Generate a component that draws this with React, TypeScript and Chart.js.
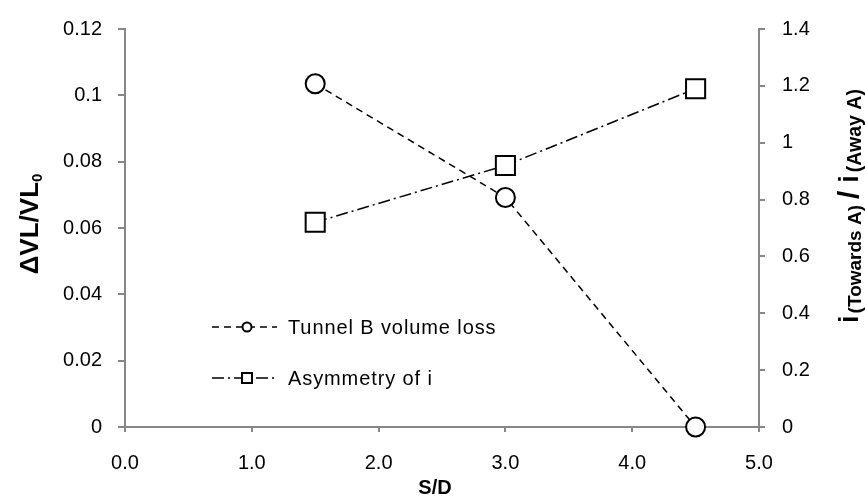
import React, { useEffect, useRef } from 'react';
import { Chart, registerables } from 'chart.js';

Chart.register(...registerables);

// ---- data ----
const sdValues = [1.5, 3.0, 4.5];
const volumeLoss = [0.1035, 0.0692, 0.0];
const asymmetry = [0.72, 0.92, 1.19];
const seriesNames = ['Tunnel B volume loss', 'Asymmetry of i'];
const xRange = [0, 5];
const leftRange = [0, 0.12];
const rightRange = [0, 1.4];

const FONT = '"Liberation Sans", Arial, Helvetica, sans-serif';
const AXIS_COLOR = '#878787';
const DASH_LOSS = [7, 5];
const DASH_ASYM = [12, 4, 2, 4];

const decorPlugin = {
  id: 'decor',
  afterDraw(chart: any) {
    const ctx: CanvasRenderingContext2D = chart.ctx;
    ctx.save();
    ctx.fillStyle = '#000';
    ctx.strokeStyle = '#000';

    // ---- legend (inside plot) ----
    const rows = [327, 378];
    const x0 = 212, x1 = 277, xm = 247, xt = 288;
    chart.data.datasets.forEach((ds: any, i: number) => {
      const y = rows[i];
      ctx.save();
      ctx.lineWidth = 1.5;
      ctx.setLineDash(ds.borderDash || []);
      ctx.beginPath();
      ctx.moveTo(x0, y);
      ctx.lineTo(x1, y);
      ctx.stroke();
      ctx.setLineDash([]);
      ctx.fillStyle = '#fff';
      ctx.lineWidth = 2;
      ctx.beginPath();
      if (ds.pointStyle === 'rect') {
        ctx.rect(xm - 5, y - 5, 10, 10);
      } else {
        ctx.arc(xm, y, 4.5, 0, Math.PI * 2);
      }
      ctx.fill();
      ctx.stroke();
      ctx.restore();
      ctx.save();
      ctx.font = `20px ${FONT}`;
      (ctx as any).letterSpacing = '0.9px';
      ctx.textAlign = 'left';
      ctx.textBaseline = 'middle';
      ctx.fillText(ds.label, xt, y + 1);
      ctx.restore();
    });

    // ---- x title ----
    ctx.font = `bold 20px ${FONT}`;
    ctx.textAlign = 'center';
    ctx.textBaseline = 'alphabetic';
    ctx.fillText('S/D', 435, 494);

    // helper for rotated rich text
    const drawRotated = (parts: { t: string; f: string; dy: number; gap?: number }[], cx: number, cy: number) => {
      ctx.save();
      ctx.translate(cx, cy);
      ctx.rotate(-Math.PI / 2);
      ctx.textAlign = 'left';
      ctx.textBaseline = 'alphabetic';
      let total = 0;
      const widths = parts.map((p) => {
        ctx.font = p.f;
        const w = ctx.measureText(p.t).width + (p.gap || 0);
        total += w;
        return w;
      });
      total -= parts[parts.length - 1].gap || 0;
      let x = -total / 2;
      parts.forEach((p, i) => {
        ctx.font = p.f;
        ctx.fillText(p.t, x, p.dy);
        x += widths[i];
      });
      ctx.restore();
    };

    // ---- left title ----
    drawRotated(
      [
        { t: 'ΔVL/VL', f: `bold 26px ${FONT}`, dy: 0 },
        { t: '0', f: `bold 15px ${FONT}`, dy: 4 },
      ],
      38,
      224
    );

    // ---- right title ----
    drawRotated(
      [
        { t: 'i', f: `bold 27px ${FONT}`, dy: 0, gap: 2 },
        { t: '(Towards A)', f: `bold 19px ${FONT}`, dy: 3, gap: 6 },
        { t: '/', f: `bold 30px ${FONT}`, dy: 1, gap: 8 },
        { t: 'i', f: `bold 27px ${FONT}`, dy: 0, gap: 3 },
        { t: '(Away A)', f: `bold 19.5px ${FONT}`, dy: 3 },
      ],
      858,
      206
    );

    ctx.restore();
  },
};

export default function App() {
  const canvasRef = useRef<HTMLCanvasElement | null>(null);

  useEffect(() => {
    const canvas = canvasRef.current;
    if (!canvas) return;
    const tickFont = { family: FONT, size: 20 };
    const chart = new Chart(canvas, {
      type: 'line',
      data: {
        datasets: [
          {
            label: seriesNames[0],
            data: sdValues.map((x, i) => ({ x, y: volumeLoss[i] })),
            yAxisID: 'y',
            borderColor: '#000',
            borderWidth: 1.5,
            borderDash: DASH_LOSS,
            pointStyle: 'circle',
            pointRadius: 9.5,
            pointBorderWidth: 2,
            pointBackgroundColor: '#fff',
            pointBorderColor: '#000',
            fill: false,
            tension: 0,
            clip: false,
          },
          {
            label: seriesNames[1],
            data: sdValues.map((x, i) => ({ x, y: asymmetry[i] })),
            yAxisID: 'y2',
            borderColor: '#000',
            borderWidth: 1.5,
            borderDash: DASH_ASYM,
            pointStyle: 'rect',
            pointRadius: 13.5,
            pointBorderWidth: 2,
            pointBackgroundColor: '#fff',
            pointBorderColor: '#000',
            fill: false,
            tension: 0,
            clip: false,
          },
        ] as any,
      },
      options: {
        responsive: false,
        animation: false,
        devicePixelRatio: 1,
        layout: { padding: { top: 28, left: 0, right: 0, bottom: 0 } },
        plugins: {
          legend: { display: false },
          tooltip: { enabled: false },
        },
        scales: {
          x: {
            type: 'linear',
            position: 'bottom',
            min: xRange[0],
            max: xRange[1],
            ticks: {
              stepSize: 1,
              font: tickFont,
              color: '#000',
              padding: 19,
              callback: (v: any) => Number(v).toFixed(1),
            },
            grid: {
              drawOnChartArea: false,
              drawTicks: true,
              tickLength: 5,
              color: AXIS_COLOR,
              lineWidth: 2,
            },
            border: { display: true, color: AXIS_COLOR, width: 2 },
            afterFit: (s: any) => {
              s.height = 69;
            },
          },
          y: {
            type: 'linear',
            position: 'left',
            min: leftRange[0],
            max: leftRange[1],
            ticks: {
              stepSize: 0.02,
              font: tickFont,
              color: '#000',
              padding: 16,
              callback: (v: any) => String(Number(Number(v).toFixed(2))),
            },
            grid: {
              drawOnChartArea: false,
              drawTicks: true,
              tickLength: 7,
              color: AXIS_COLOR,
              lineWidth: 2,
            },
            border: { display: true, color: AXIS_COLOR, width: 2 },
            afterFit: (s: any) => {
              s.width = 125;
            },
          },
          y2: {
            type: 'linear',
            position: 'right',
            min: rightRange[0],
            max: rightRange[1],
            ticks: {
              stepSize: 0.2,
              font: tickFont,
              color: '#000',
              padding: 17,
              callback: (v: any) => String(Number(Number(v).toFixed(1))),
            },
            grid: {
              drawOnChartArea: false,
              drawTicks: true,
              tickLength: 6,
              color: AXIS_COLOR,
              lineWidth: 2,
            },
            border: { display: true, color: AXIS_COLOR, width: 2 },
            afterFit: (s: any) => {
              s.width = 106;
            },
          },
        } as any,
      },
      plugins: [decorPlugin],
    });
    return () => chart.destroy();
  }, []);

  return (
    <div style={{ position: 'absolute', left: 0, top: 0, width: 865, height: 496, background: '#fff' }}>
      <canvas ref={canvasRef} width={865} height={496} style={{ display: 'block', width: 865, height: 496 }} />
    </div>
  );
}
